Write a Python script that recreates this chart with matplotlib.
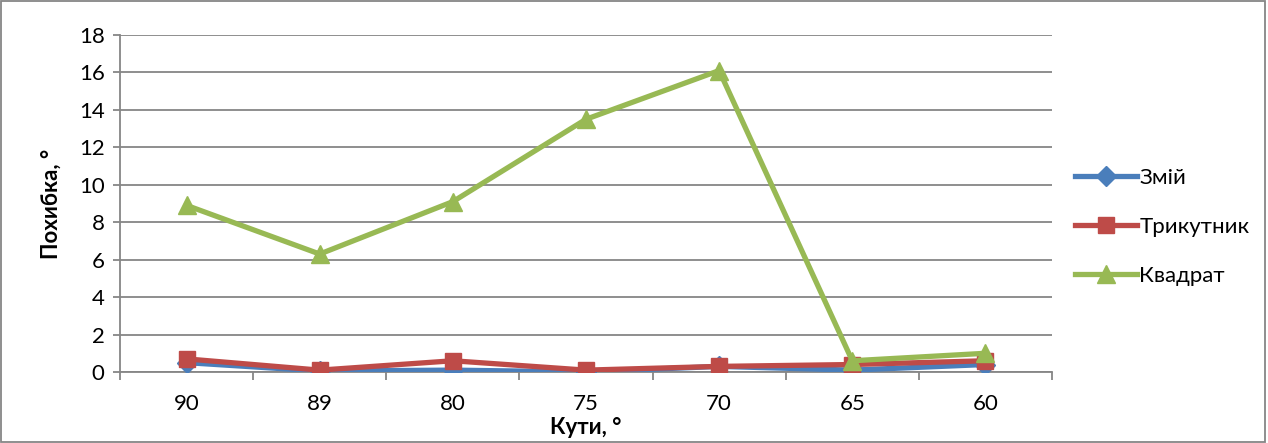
import matplotlib.pyplot as plt
from matplotlib.patches import Rectangle

angles = ["90", "89", "80", "75", "70", "65", "60"]
zmii = [0.5, 0.05, 0.1, 0.0, 0.3, 0.1, 0.4]
tryk = [0.7, 0.1, 0.6, 0.1, 0.3, 0.4, 0.6]
kvad = [8.9, 6.3, 9.1, 13.5, 16.1, 0.6, 1.0]

plt.rcParams['font.family'] = ['Lato', 'DejaVu Sans']

fig = plt.figure(figsize=(12.68, 4.43), dpi=100)
ax = fig.add_axes([120 / 1268, 71 / 443, 932 / 1268, 337 / 443])

x = range(len(angles))
ax.plot(x, zmii, color='#4a7ebb', lw=3.8, marker='D', ms=10, label='Змій', zorder=3)
ax.plot(x, tryk, color='#be4b48', lw=3.8, marker='s', ms=12, label='Трикутник', zorder=4)
ax.plot(x, kvad, color='#98b954', lw=3.8, marker='^', ms=13, label='Квадрат', zorder=5)

ax.set_xlim(-0.5, len(angles) - 0.5)
ax.set_ylim(0, 18)
ax.set_yticks(range(0, 19, 2))
ax.set_xticks(list(x))
ax.set_xticklabels(angles)
ax.set_xticks([i - 0.5 for i in range(len(angles) + 1)], minor=True)
ax.tick_params(axis='x', which='major', length=0, labelsize=16, pad=16)
ax.tick_params(axis='x', which='minor', length=6, color='#868686', width=1.3)
ax.tick_params(axis='y', length=5, color='#868686', width=1.3, labelsize=16, pad=6)
ax.yaxis.grid(True, color='#868686', lw=1.3)
ax.set_axisbelow(True)
for s in ['top', 'right']:
    ax.spines[s].set_visible(False)
for s in ['left', 'bottom']:
    ax.spines[s].set_color('#868686')
    ax.spines[s].set_linewidth(1.3)

ax.set_ylabel('Похибка, °', fontsize=16, fontweight='bold', labelpad=12)
ax.set_xlabel('Кути, °', fontsize=16, fontweight='bold', labelpad=2)

ax.legend(loc='center left', bbox_to_anchor=(1.003, 0.43), frameon=False,
          fontsize=16, labelspacing=1.3, handlelength=2.8, handletextpad=0.1)

fig.patches.append(Rectangle((0.001, 0.002), 0.997, 0.996, transform=fig.transFigure,
                             fill=False, edgecolor='#868686', lw=1.3))

fig.savefig('out.png', dpi=100)
